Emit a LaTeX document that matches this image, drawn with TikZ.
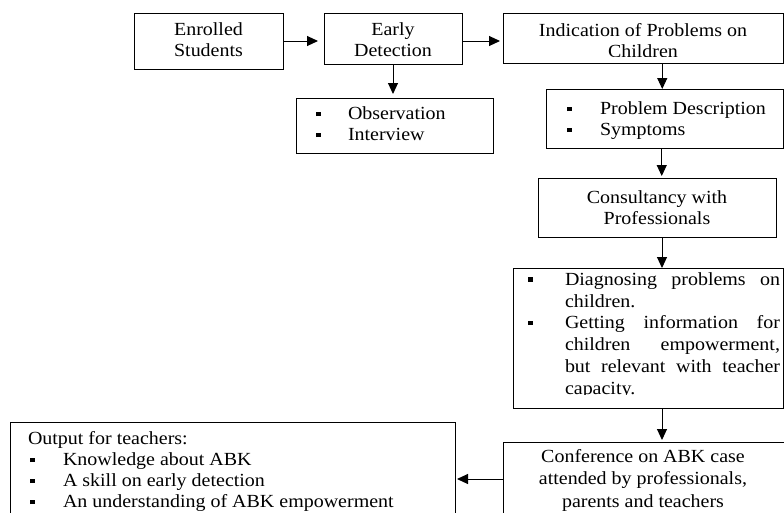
\documentclass[tikz,border=0pt]{standalone}
\usepackage{fontspec}
\setmainfont{Liberation Serif}[FakeStretch=1.08]
\usetikzlibrary{arrows.meta}
\newcommand\blt{\rule[0.2em]{4.5pt}{4.5pt}}
\begin{document}
\begin{tikzpicture}[x=1pt,y=-1pt,
  box/.style={draw, line width=1pt, anchor=north west, inner sep=0pt, outer sep=0pt},
  txt/.style={inner sep=0pt, outer sep=0pt, font=\fontsize{18.5}{21}\selectfont, align=center},
  lst/.style={inner sep=0pt, outer sep=0pt, font=\fontsize{18.5}{21}\selectfont},
  arr/.style={line width=1pt, -{Triangle[length=11pt,width=10pt]}}]
\clip (0,0) rectangle (784,512);
\useasboundingbox (0,0) rectangle (784,512);
% boxes
\node[box, minimum width=149pt, minimum height=56pt] (es) at (134,13) {};
\node[box, minimum width=138pt, minimum height=51pt] (ed) at (324,13) {};
\node[box, minimum width=280.5pt, minimum height=50pt] (ind) at (503,13) {};
\node[box, minimum width=197pt, minimum height=55pt] (obs) at (296,98) {};
\node[box, minimum width=237.5pt, minimum height=59pt] (pd) at (546,89) {};
\node[box, minimum width=238pt, minimum height=59pt] (cons) at (538,178) {};
\node[box, minimum width=270pt, minimum height=140pt] (diag) at (513,268) {};
\node[box, minimum width=290pt, minimum height=74pt] (conf) at (503,442) {};
\node[box, minimum width=445pt, minimum height=114pt] (out) at (10,422) {};
% texts
\node[txt] (est) at (208.5,40) {Enrolled\\Students};
\node[txt] (edt) at (393,39.5) {Early\\Detection};
\begin{scope}
\clip (504,14) rectangle (783,56.5);
\node[txt] (indt) at (643,41) {Indication of Problems on\\Children};
\end{scope}
\node[lst, anchor=west] (obst) at (316,126) {\begin{tabular}{@{}p{32pt}@{}l@{}}\blt & Observation\\ \blt & Interview\end{tabular}};
\node[lst, anchor=west] (pdt) at (567,121) {\begin{tabular}{@{}p{33pt}@{}l@{}}\blt & Problem Description\\ \blt & Symptoms\end{tabular}};
\node[txt] (const) at (657,208) {Consultancy with\\Professionals};
\begin{scope}
\clip (514,269) rectangle (782,394.5);
\node[lst, anchor=north west, font=\fontsize{18.5}{21.8}\selectfont] (diagt) at (528,270) {\hyphenpenalty=10000\begin{tabular}{@{}p{37pt}@{}p{215pt}@{}}\blt & Diagnosing problems on children.\\ \blt & Getting information for\linebreak children empowerment,\linebreak but relevant with teacher\linebreak capacity.\end{tabular}};
\end{scope}
\node[txt, font=\fontsize{18.5}{22.5}\selectfont] (conft) at (643,480) {Conference on ABK case\\attended by professionals,\\parents and teachers};
\node[lst, anchor=north west] (outt) at (28,430) {\begin{tabular}{@{}p{35pt}@{}l@{}}\multicolumn{2}{@{}l@{}}{Output for teachers:}\\ \hspace{2pt}\blt & Knowledge about ABK\\ \hspace{2pt}\blt & A skill on early detection\\ \hspace{2pt}\blt & An understanding of ABK empowerment\end{tabular}};
% connectors
\draw[arr, shorten >=6pt] (es.east) -- (ed.west |- es.east);
\draw[arr, shorten >=3pt] (ed.east |- es.east) -- (ind.west |- es.east);
\draw[arr, shorten >=4pt] (ed.south) -- (ed.south |- obs.north);
\draw[arr] ([xshift=19pt]ind.south) -- ([xshift=19pt]ind.south |- pd.north);
\draw[arr, shorten >=2pt] ([xshift=-3pt]pd.south) -- ([xshift=-3pt]pd.south |- cons.north);
\draw[arr] ([xshift=5pt]cons.south) -- ([xshift=5pt]cons.south |- diag.north);
\draw[arr, shorten >=2pt] ([xshift=14pt]diag.south) -- ([xshift=14pt]diag.south |- conf.north);
\draw[arr, shorten >=2pt] (conf.west) -- (out.east |- conf.west);
\end{tikzpicture}
\end{document}
